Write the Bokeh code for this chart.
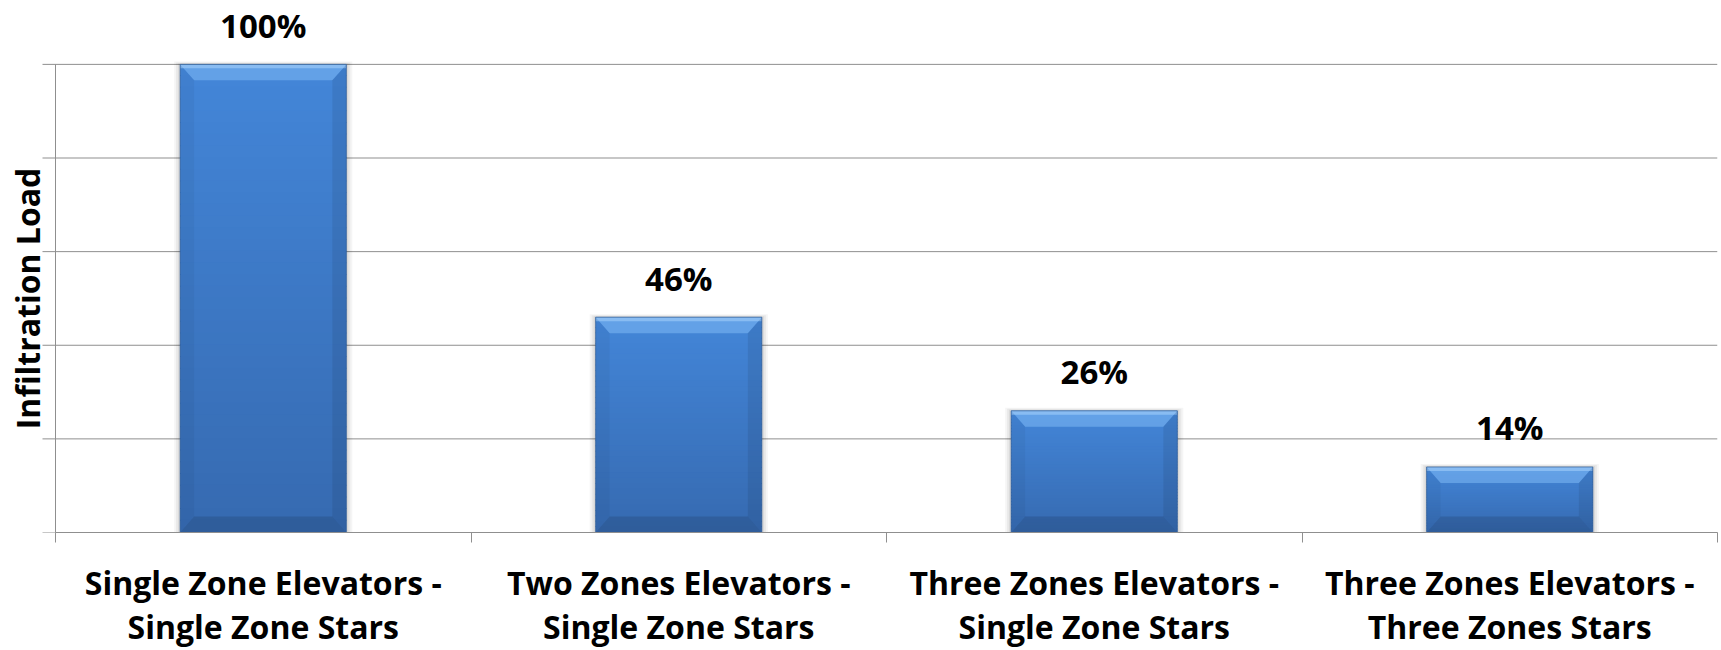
import math
from bokeh.plotting import figure
from bokeh.models import Range1d, FixedTicker
from bokeh.core.properties import value
from bokeh.embed import file_html
from bokeh.resources import INLINE

# Chart data
categories = [
    "Single Zone Elevators -\nSingle Zone Stars",
    "Two Zones Elevators -\nSingle Zone Stars",
    "Three Zones Elevators -\nSingle Zone Stars",
    "Three Zones Elevators -\nThree Zones Stars",
]
load_pct = [100, 46, 26, 14]
value_labels = ["100%", "46%", "26%", "14%"]
y_ticks = [0, 20, 40, 60, 80, 100]
y_title = "Infiltration Load"

FONT = "Open Sans"
GRID = "#8f8f8f"

W, H = 1721, 650
RIGHT, BOTTOM = 4, 117
frame_w = W - RIGHT
frame_h = H - BOTTOM
# plot area inside the frame: value axis at 55 px from the left, 100% line 64 px from the top
axis_px, top_px = 55, 64
tick_px = 13

n = len(categories)
cat_px = (frame_w - axis_px) / n
x_start = -axis_px / cat_px
y_max = 100 * frame_h / (frame_h - top_px)

p = figure(width=W, height=H, output_backend="svg", toolbar_location=None,
           x_range=Range1d(x_start, n), y_range=Range1d(0, y_max),
           y_axis_location=None,
           min_border_left=0, min_border_right=RIGHT,
           min_border_top=0, min_border_bottom=BOTTOM)
p.outline_line_color = None
p.background_fill_color = "white"
p.border_fill_color = "white"
p.grid.visible = False

# pixel -> data conversions
px_x = 1 / cat_px
px_y = y_max / frame_h

# horizontal gridlines (extending left past the axis as tick marks) and the value axis line
p.segment(x0=[-tick_px * px_x] * len(y_ticks), x1=[n] * len(y_ticks),
          y0=y_ticks, y1=y_ticks, line_color=GRID, line_width=1)
p.segment(x0=[0], x1=[0], y0=[y_ticks[0]], y1=[y_ticks[-1]], line_color=GRID, line_width=1)

# value-axis title
p.text(x=[(27 - axis_px) * px_x], y=[(y_ticks[0] + y_ticks[-1]) / 2], text=[y_title],
       angle=math.pi / 2, text_align="center", text_baseline="middle",
       text_font=value(FONT), text_font_style="bold", text_font_size="32px",
       text_color="black")

bar_w = 0.40
centers = [i + 0.5 for i in range(n)]
lefts = [c - bar_w / 2 for c in centers]
rights = [c + bar_w / 2 for c in centers]

# soft shadow around each bar
for k, a in [(6, 0.04), (4, 0.05), (2, 0.07)]:
    p.quad(left=[l - k * px_x for l in lefts], right=[r + k * px_x for r in rights],
           bottom=[0] * n, top=[v + 0.5 * k * px_y for v in load_pct],
           fill_color="black", fill_alpha=a, line_color=None)

# bar body with a vertical gradient (light top -> darker bottom)
def mix(c1, c2, t):
    return "#%02x%02x%02x" % tuple(round(a + (b - a) * t) for a, b in zip(c1, c2))

top_rgb = (67, 134, 217)
bot_rgb = (54, 106, 176)
steps = 40
for i in range(n):
    v = load_pct[i]
    bots, tops, cols = [], [], []
    for s in range(steps):
        bots.append(v * (1 - (s + 1) / steps))
        # slices overlap by a pixel so no seams show between them
        tops.append(min(v, v * (1 - s / steps) + px_y))
        cols.append(mix(top_rgb, bot_rgb, (s + 0.5) / steps))
    p.quad(left=[lefts[i]] * steps, right=[rights[i]] * steps, bottom=bots, top=tops,
           fill_color=cols, line_color=None)

# bevel: lighter top face, shaded sides and bottom
dx = 14 * px_x
dy = 16 * px_y
top_xs, top_ys, l_xs, l_ys, r_xs, r_ys, b_xs, b_ys = [], [], [], [], [], [], [], []
for i in range(n):
    x0, x1, v = lefts[i], rights[i], load_pct[i]
    top_xs.append([x0, x1, x1 - dx, x0 + dx])
    top_ys.append([v, v, v - dy, v - dy])
    l_xs.append([x0, x0 + dx, x0 + dx, x0])
    l_ys.append([v, v - dy, dy, 0])
    r_xs.append([x1, x1 - dx, x1 - dx, x1])
    r_ys.append([v, v - dy, dy, 0])
    b_xs.append([x0, x1, x1 - dx, x0 + dx])
    b_ys.append([0, 0, dy, dy])

p.patches(top_xs, top_ys, fill_color="#7ab4f2", fill_alpha=0.6, line_color=None)
p.quad(left=lefts, right=rights, top=load_pct, bottom=[v - 4 * px_y for v in load_pct],
       fill_color="#a4cefa", fill_alpha=0.6, line_color=None)
p.patches(l_xs, l_ys, fill_color="black", fill_alpha=0.04, line_color=None)
p.patches(r_xs, r_ys, fill_color="black", fill_alpha=0.08, line_color=None)
p.patches(b_xs, b_ys, fill_color="black", fill_alpha=0.12, line_color=None)
p.quad(left=lefts, right=rights, top=load_pct, bottom=[0] * n,
       fill_color=None, line_color="#2c5a94", line_alpha=0.7, line_width=1)

# value labels above each bar
p.text(x=centers, y=load_pct, text=value_labels, y_offset=-39,
       text_align="center", text_baseline="middle",
       text_font=value(FONT), text_font_style="bold",
       text_font_size="33px", text_color="black")

# category axis: names centred, ticks on the category boundaries
p.xaxis.bounds = (0, n)
p.xaxis.ticker = FixedTicker(ticks=centers, minor_ticks=list(range(n + 1)))
p.xaxis.major_label_overrides = {c: lab for c, lab in zip(centers, categories)}
p.xaxis.axis_line_color = GRID
p.xaxis.major_tick_out = 0
p.xaxis.major_tick_in = 0
p.xaxis.minor_tick_out = 10
p.xaxis.minor_tick_in = 0
p.xaxis.minor_tick_line_color = GRID
p.xaxis.major_label_text_font = FONT
p.xaxis.major_label_text_font_style = "bold"
p.xaxis.major_label_text_font_size = "32px"
p.xaxis.major_label_text_line_height = 1.03
p.xaxis.major_label_text_color = "black"
p.xaxis.major_label_standoff = 18

open("out.html", "w").write(file_html(p, INLINE))
